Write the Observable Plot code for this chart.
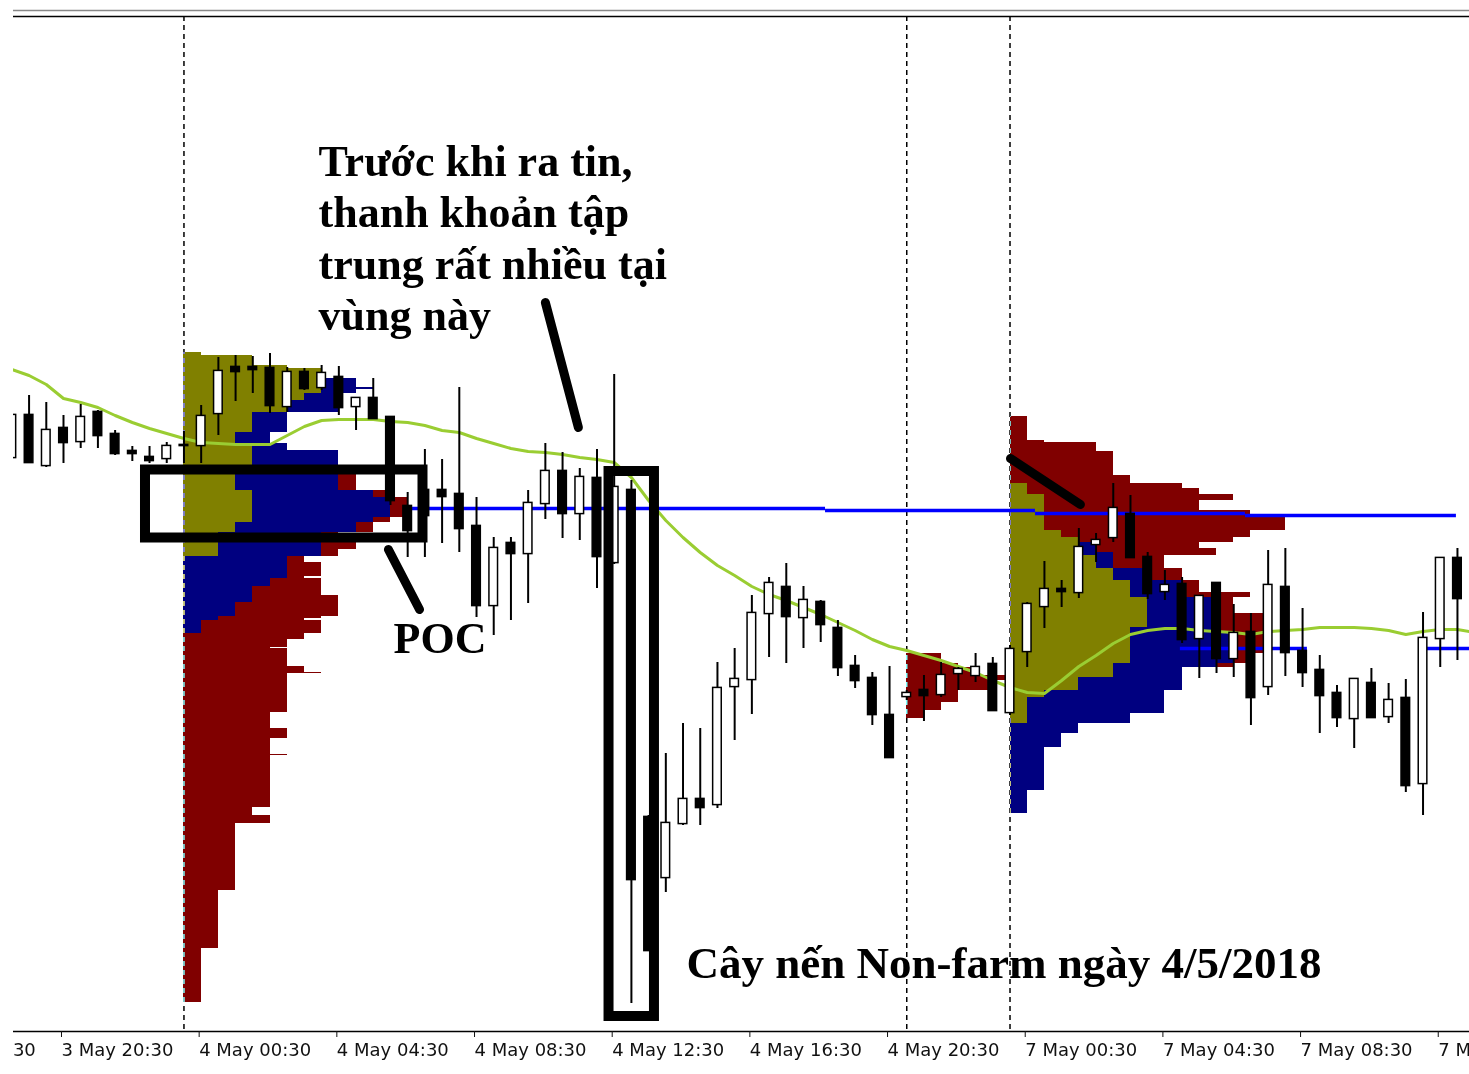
<!DOCTYPE html>
<html><head><meta charset="utf-8">
<script src="https://cdn.jsdelivr.net/npm/d3@7"></script>
<script src="https://cdn.jsdelivr.net/npm/@observablehq/plot@0.6"></script>
<style>
html,body{margin:0;padding:0;background:#fff;}
#wrap{position:absolute;left:13px;top:0;width:1456px;height:1074px;overflow:hidden;}
#wrap svg{overflow:hidden;display:block;}
</style></head><body><div id="wrap"></div>
<script>
// 30-minute bars, index 0 = 3 May 20:30
const firstBar = -3, lastBar = 82;
const open = [1.19074,1.19116,1.19066,1.19103,1.19090,1.19119,1.19097,1.19080,1.19074,1.19073,1.19086,1.19086,1.19118,1.19164,1.19164,1.19163,1.19125,1.19159,1.19144,1.19154,1.19125,1.19133,1.19114,1.19025,1.19041,1.19041,1.19037,1.19005,1.18926,1.18988,1.18978,1.19028,1.19060,1.19018,1.19053,1.18969,1.19041,1.18714,1.18654,1.18708,1.18732,1.18727,1.18845,1.18852,1.18918,1.18944,1.18914,1.18929,1.18903,1.18865,1.18853,1.18816,1.18835,1.18841,1.18837,1.18858,1.18856,1.18867,1.18819,1.18880,1.18925,1.18942,1.18939,1.18987,1.18994,1.19017,1.18974,1.18940,1.18947,1.18893,1.18948,1.18873,1.18899,1.18845,1.18944,1.18880,1.18861,1.18838,1.18813,1.18848,1.18815,1.18833,1.18748,1.18893,1.18973,1.18934];
const high = [1.19126,1.19136,1.19129,1.19116,1.19127,1.19121,1.19101,1.19085,1.19085,1.19089,1.19100,1.19126,1.19174,1.19176,1.19175,1.19178,1.19164,1.19163,1.19166,1.19165,1.19133,1.19153,1.19114,1.19039,1.19082,1.19072,1.19144,1.19034,1.18994,1.18994,1.19041,1.19088,1.19079,1.19063,1.19082,1.19157,1.19051,1.18716,1.18778,1.18808,1.18803,1.18869,1.18883,1.18936,1.18954,1.18968,1.18945,1.18931,1.18911,1.18876,1.18859,1.18865,1.18841,1.18856,1.18869,1.18864,1.18878,1.18874,1.18886,1.18929,1.18970,1.18951,1.19003,1.18998,1.19048,1.19036,1.18979,1.18961,1.18954,1.18935,1.18948,1.18927,1.18918,1.18981,1.18983,1.18923,1.18876,1.18846,1.18852,1.18863,1.18848,1.18852,1.18919,1.18974,1.18983,1.18941];
const low = [1.19066,1.19068,1.19064,1.19068,1.19083,1.19083,1.19076,1.19070,1.19068,1.19068,1.19068,1.19068,1.19096,1.19130,1.19138,1.19118,1.19119,1.19141,1.19141,1.19116,1.19101,1.19113,1.19026,1.18974,1.18974,1.18988,1.18979,1.18914,1.18896,1.18911,1.18928,1.19012,1.18993,1.18991,1.18943,1.18967,1.18528,1.18581,1.18639,1.18706,1.18706,1.18723,1.18791,1.18817,1.18874,1.18868,1.18883,1.18889,1.18855,1.18843,1.18806,1.18774,1.18831,1.18810,1.18834,1.18841,1.18849,1.18821,1.18816,1.18864,1.18903,1.18924,1.18933,1.18969,1.18989,1.18974,1.18932,1.18931,1.18888,1.18853,1.18858,1.18854,1.18806,1.18836,1.18855,1.18844,1.18798,1.18804,1.18783,1.18814,1.18808,1.18739,1.18716,1.18864,1.18871,1.18861];
const close = [1.19116,1.19069,1.19101,1.19089,1.19114,1.19096,1.19078,1.19078,1.19071,1.19085,1.19086,1.19115,1.19160,1.19160,1.19162,1.19126,1.19159,1.19143,1.19158,1.19124,1.19133,1.19113,1.19031,1.19001,1.19016,1.19035,1.19003,1.18926,1.18983,1.18978,1.19028,1.19060,1.19018,1.19054,1.18975,1.19044,1.18652,1.18581,1.18708,1.18732,1.18724,1.18843,1.18852,1.18918,1.18948,1.18915,1.18931,1.18907,1.18864,1.18851,1.18817,1.18774,1.18838,1.18836,1.18856,1.18862,1.18864,1.18821,1.18882,1.18927,1.18942,1.18940,1.18984,1.18991,1.19023,1.18974,1.18938,1.18946,1.18892,1.18935,1.18873,1.18898,1.18834,1.18946,1.18879,1.18859,1.18836,1.18814,1.18852,1.18814,1.18831,1.18746,1.18893,1.18973,1.18933,1.18868];
const movingAverage = [1.19162,1.19156,1.19147,1.19133,1.19129,1.19124,1.19116,1.19109,1.19103,1.19098,1.19093,1.19089,1.19088,1.19087,1.19087,1.19087,1.19096,1.19105,1.19111,1.19112,1.19112,1.19112,1.19110,1.19109,1.19106,1.19101,1.19099,1.19093,1.19088,1.19083,1.19080,1.19079,1.19077,1.19074,1.19072,1.19069,1.19054,1.19031,1.19011,1.18994,1.18979,1.18966,1.18956,1.18945,1.18937,1.18931,1.18924,1.18917,1.18909,1.18901,1.18892,1.18885,1.18881,1.18876,1.18871,1.18865,1.18859,1.18851,1.18844,1.18839,1.18838,1.18851,1.18865,1.18876,1.18888,1.18897,1.18901,1.18903,1.18903,1.18901,1.18900,1.18899,1.18897,1.18900,1.18901,1.18902,1.18904,1.18904,1.18904,1.18903,1.18901,1.18897,1.18900,1.18902,1.18902,1.18899];

// Volume profiles: [top price, bottom price, olive count, navy count, dark-red count]
const profileAStart = 7, profileBStart = 49, profileCStart = 55;
const profileA = [
 [1.19179,1.19176,1,0,0],[1.19176,1.19166,4,0,0],[1.19166,1.19163,6,0,0],[1.19163,1.19153,8,0,0],
 [1.19153,1.19144,8,2,0],[1.19144,1.19142,8,3,0],[1.19142,1.19138,8,2,0],[1.19138,1.19131,7,2,0],
 [1.19131,1.19119,6,3,0],[1.19119,1.19099,4,2,0],[1.19099,1.19088,3,2,0],[1.19088,1.19081,4,2,0],
 [1.19081,1.19065,4,5,0],[1.19065,1.19041,3,6,1],[1.19041,1.19034,4,7,1],[1.19034,1.19014,4,8,1],
 [1.19014,1.19009,4,7,1],[1.19009,1.18999,3,7,1],[1.18999,1.18989,2,6,1],[1.18989,1.18982,2,6,2],
 [1.18982,1.18975,2,6,1],[1.18975,1.18969,0,6,1],[1.18969,1.18955,0,6,2],[1.18955,1.18953,0,6,1],
 [1.18953,1.18945,0,5,3],[1.18945,1.18936,0,4,4],[1.18936,1.18929,0,4,5],[1.18929,1.18915,0,3,6],
 [1.18915,1.18913,0,2,6],[1.18913,1.18911,0,2,5],[1.18911,1.18898,0,1,7],[1.18898,1.18892,0,0,7],
 [1.18892,1.18884,0,0,6],[1.18884,1.18883,0,0,5],[1.18883,1.18865,0,0,6],[1.18865,1.18859,0,0,7],
 [1.18859,1.18858,0,0,8],[1.18858,1.18819,0,0,6],[1.18819,1.18803,0,0,5],[1.18803,1.18793,0,0,6],
 [1.18793,1.18777,0,0,5],[1.18777,1.18776,0,0,6],[1.18776,1.18724,0,0,5],[1.18724,1.18716,0,0,4],
 [1.18716,1.18708,0,0,5],[1.18708,1.18641,0,0,3],[1.18641,1.18583,0,0,2],[1.18583,1.18529,0,0,1]
];
const profileB = [
 [1.18878,1.18868,0,0,2],[1.18868,1.18864,0,0,3],[1.18864,1.18856,0,0,4],[1.18856,1.18851,0,0,6],
 [1.18851,1.18841,0,0,5],[1.18841,1.18829,0,0,3],[1.18829,1.18821,0,0,2],[1.18821,1.18813,0,0,1]
];
const profileC = [
 [1.19115,1.19091,0,0,1],[1.19091,1.19089,0,0,2],[1.19089,1.19080,0,0,5],[1.19080,1.19056,0,0,6],
 [1.19056,1.19048,0,0,7],[1.19048,1.19043,1,0,9],[1.19043,1.19037,1,0,10],[1.19037,1.19031,2,0,11],
 [1.19031,1.19021,2,0,9],[1.19021,1.19014,2,0,12],[1.19014,1.19001,2,0,14],[1.19001,1.18994,3,0,11],
 [1.18994,1.18989,4,0,9],[1.18989,1.18983,4,1,6],[1.18983,1.18979,4,1,7],[1.18979,1.18976,4,2,6],
 [1.18976,1.18963,5,1,3],[1.18963,1.18951,6,2,2],[1.18951,1.18939,7,3,1],[1.18939,1.18934,7,3,4],
 [1.18934,1.18918,8,4,1],[1.18918,1.18904,8,4,3],[1.18904,1.18898,7,5,3],[1.18898,1.18878,7,6,2],
 [1.18878,1.18868,7,6,1],[1.18868,1.18864,6,6,1],[1.18864,1.18854,6,4,0],[1.18854,1.18841,4,6,0],
 [1.18841,1.18834,2,7,0],[1.18834,1.18818,1,8,0],[1.18818,1.18808,1,6,0],[1.18808,1.18798,0,4,0],
 [1.18798,1.18784,0,3,0],[1.18784,1.18741,0,2,0],[1.18741,1.18718,0,1,0]
];
// Point-of-control lines: [from bar, to bar, price]
const pocLines = [[20,44.28,1.19023],[44.28,56.48,1.19021],[56.48,68.68,1.19018],[68.68,80.94,1.19016],[64.9,72.28,1.18883],[79.26,82,1.18883]];
// Session separators (bar index)
const separators = [7, 49, 55];
// Time axis
const tickBars = [-8,0,8,16,24,32,40,48,56,64,72,80];
const tickLabels = ["3 May 16:30","3 May 20:30","4 May 00:30","4 May 04:30","4 May 08:30","4 May 12:30","4 May 16:30","4 May 20:30","7 May 00:30","7 May 04:30","7 May 08:30","7 May 12:30"];
// Annotations (in bar / price coordinates)
const noteTexts = ["Trước khi ra tin,","thanh khoản tập","trung rất nhiều tại","vùng này","POC"];
const noteBars = [14.82,14.82,14.82,14.82,19.18];
const notePrices = [1.19356,1.19305,1.19253,1.19202,1.18879];
const captionText = ["Cây nến Non-farm ngày 4/5/2018"];
const captionBar = 36.2, captionPrice = 1.18554;
const boxes = [[4.765,20.89,1.190615,1.189935],[31.70,34.34,1.19060,1.18515]];
const pointers = [[28.0,1.19229,29.92,1.19104],[18.88,1.18982,20.69,1.18922],[55.03,1.19073,59.09,1.19027]];

const bars = d3.range(firstBar, lastBar + 1);
const candles = bars.map((k,i)=>({k, o:open[i], h:high[i], l:low[i], c:close[i]}));
const colors = ["#808000","#000080","#800000"];
function profileRects(start, rows){
  const out = [];
  for (const [top,bot,...w] of rows){
    let x = start;
    w.forEach((n,j)=>{ if(n>0){ out.push({x1:x, x2:x+n, y1:bot, y2:top, fill:colors[j]}); x += n; } });
  }
  return out;
}
const profRects = [...profileRects(profileAStart, profileA), ...profileRects(profileBStart, profileB), ...profileRects(profileCStart, profileC)];
const yDomain = [1.18500, 1.19515];
const half = 0.25;
const serif = {textAnchor:"start", lineAnchor:"bottom", fontFamily:"Liberation Serif", fontWeight:"bold", fill:"black"};

const chart = Plot.plot({
  width: 1456, height: 1074,
  marginTop: 16, marginBottom: 43, marginLeft: 0, marginRight: 0,
  x: {domain: [-2.905, 81.70], axis: null},
  y: {domain: yDomain, axis: null},
  style: {fontFamily: "DejaVu Sans", fontSize: "18px", background: "white", overflow: "hidden"},
  marks: [
    Plot.frame({fill: "white", stroke: "none"}),
    Plot.rect(profRects, {x1:"x1", x2:"x2", y1:"y1", y2:"y2", fill: d=>d.fill, shapeRendering:"crispEdges"}),
    Plot.ruleX(separators, {stroke:"white", strokeWidth:1.5, strokeDasharray:"5,4", mixBlendMode:"difference"}),
    Plot.ruleY(pocLines, {x1: d=>d[0], x2: d=>d[1], y: d=>d[2], stroke:"#0000ff", strokeWidth:3.5}),
    Plot.line(movingAverage, {x:(d,i)=>bars[i], y:d=>d, stroke:"#9acd32", strokeWidth:3}),
    Plot.ruleX(candles, {x:"k", y1:"l", y2:"h", stroke:"black", strokeWidth:2}),
    Plot.rect(candles, {x1:d=>d.k-half, x2:d=>d.k+half, y1:"o", y2:"c", insetTop:-0.6, insetBottom:-0.6,
      fill:d=>d.c>d.o?"white":"black", stroke:"black", strokeWidth:1.5}),
    Plot.rect(boxes, {x1:d=>d[0], x2:d=>d[1], y1:d=>d[2], y2:d=>d[3], fill:"none", stroke:"black", strokeWidth:10, strokeLinejoin:"miter"}),
    Plot.link(pointers, {x1:d=>d[0], y1:d=>d[1], x2:d=>d[2], y2:d=>d[3], stroke:"black", strokeWidth:9, strokeLinecap:"round"}),
    Plot.text(noteTexts, {x:(d,i)=>noteBars[i], y:(d,i)=>notePrices[i], text:d=>d, fontSize:44, ...serif}),
    Plot.text(captionText, {x:()=>captionBar, y:()=>captionPrice, text:d=>d, fontSize:45, ...serif}),
    Plot.ruleY([yDomain[1]], {stroke:"black", strokeWidth:1.5}),
    Plot.ruleY([yDomain[1]], {stroke:"#888", strokeWidth:1.5, dy:-6}),
    Plot.ruleY([yDomain[0]], {stroke:"black", strokeWidth:1.5}),
    Plot.axisX({ticks: tickBars, tickFormat: d=>tickLabels[tickBars.indexOf(d)], tickSize:6, tickPadding:6,
      textAnchor:"start", dx:-2, color:"#111"})
  ]
});
document.getElementById("wrap").appendChild(chart);
</script></body></html>
